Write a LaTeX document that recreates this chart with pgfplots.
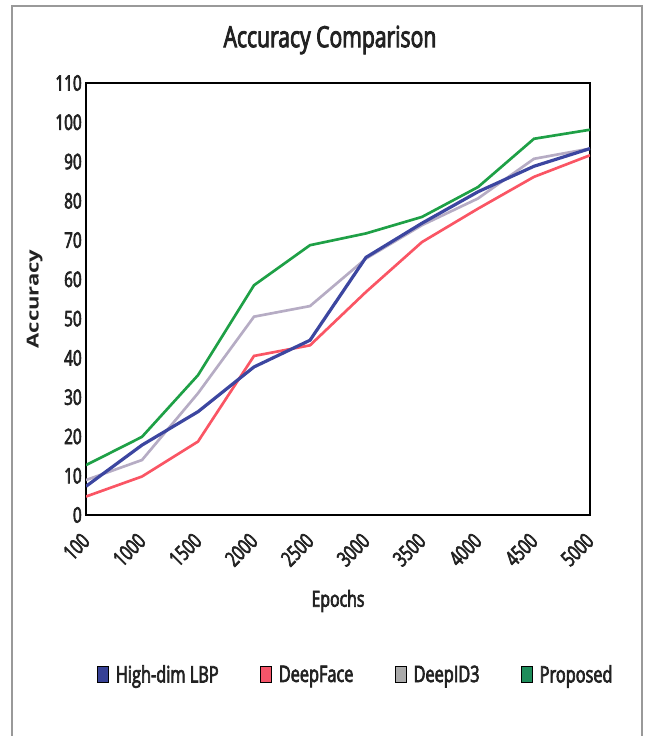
\documentclass[border=0pt]{standalone}
\usepackage{fontspec}
\setmainfont{Open Sans}[FakeStretch=0.72, FakeBold=3]
\newfontfamily\labelfont{Open Sans}
\usepackage{graphicx}
\usepackage{pgfplots}
\pgfplotsset{compat=1.18}

\definecolor{lbpline}{RGB}{60,70,160}
\definecolor{faceline}{RGB}{250,85,100}
\definecolor{idline}{RGB}{182,172,196}
\definecolor{propline}{RGB}{30,160,70}
\definecolor{lbpbox}{RGB}{55,65,150}
\definecolor{facebox}{RGB}{245,85,105}
\definecolor{idbox}{RGB}{170,170,170}
\definecolor{propbox}{RGB}{30,140,90}
\definecolor{txt}{RGB}{34,34,34}

\pgfplotstableread{
x lbp face id prop
0 7.3 4.7 8.9 12.7
1 17.8 9.8 14.0 19.9
2 26.3 18.7 31.0 35.6
3 37.7 40.5 50.5 58.5
4 44.5 43.2 53.2 68.7
5 65.6 56.8 65.3 71.7
6 74.3 69.5 73.8 75.9
7 82.3 78.0 80.6 83.5
8 88.8 86.1 90.7 95.8
9 93.3 91.6 93.3 98.1
}\acc

\begin{document}
\begin{tikzpicture}
% page: 651x736 px at 0.75pt per px
\path[use as bounding box] (0,0) rectangle (488.25pt,552pt);
\draw[gray!80, line width=1pt] (9pt,-5pt) -- (9pt,547.5pt) -- (481.5pt,547.5pt) -- (481.5pt,-5pt);
\node[text=txt, font=\fontsize{22}{26}\selectfont] at (247.5pt,522pt) {Accuracy Comparison};

\begin{axis}[
  at={(64.5pt,165.75pt)}, anchor=south west,
  scale only axis, width=378pt, height=324pt,
  xmin=0, xmax=9, ymin=0, ymax=110,
  xtick={0,...,9},
  xticklabels={100,1000,1500,2000,2500,3000,3500,4000,4500,5000},
  ytick={0,10,...,110},
  major tick length=0pt,
  axis line style={black, line width=1.3pt},
  tick label style={text=txt, font=\fontsize{16}{18}\selectfont, /pgf/number format/assume math mode=true},
  % shifts act in the rotated frame
  xticklabel style={rotate=45, anchor=north east, inner sep=0pt, xshift=-11.8pt, yshift=-5.6pt},
  yticklabel style={inner sep=3pt},
  xlabel={Epochs},
  xlabel style={at={(axis description cs:0.5,-0.199)}, anchor=center, text=txt, font=\fontsize{16.5}{19}\selectfont},
  ylabel={\scalebox{1}[0.75]{\labelfont\bfseries Accuracy}},
  ylabel style={at={(axis description cs:-0.102,0.5)}, anchor=center, text=txt, font=\fontsize{16.5}{19}\selectfont},
  legend columns=4,
  legend style={draw=none, fill=none, at={(axis description cs:0.536,-0.370)}, anchor=center,
    font=\fontsize{17}{20}\selectfont, text=txt,
    /tikz/every odd column/.append style={column sep=3pt},
    /tikz/every even column/.append style={column sep=29pt}},
  legend image code/.code={\draw[#1, draw=black, line width=0.6pt] (0pt,-6pt) rectangle (8.5pt,6.5pt);},
]
\addplot[idline, line width=2pt, forget plot] table[x=x, y=id] {\acc};
\addplot[faceline, line width=2pt, forget plot] table[x=x, y=face] {\acc};
\addplot[propline, line width=2pt, forget plot] table[x=x, y=prop] {\acc};
\addplot[lbpline, line width=2.4pt, forget plot] table[x=x, y=lbp] {\acc};
\addlegendimage{fill=lbpbox}
\addlegendentry{High-dim LBP}
\addlegendimage{fill=facebox}
\addlegendentry{DeepFace}
\addlegendimage{fill=idbox}
\addlegendentry{DeepID3}
\addlegendimage{fill=propbox}
\addlegendentry{Proposed}
\end{axis}
\end{tikzpicture}
\end{document}
